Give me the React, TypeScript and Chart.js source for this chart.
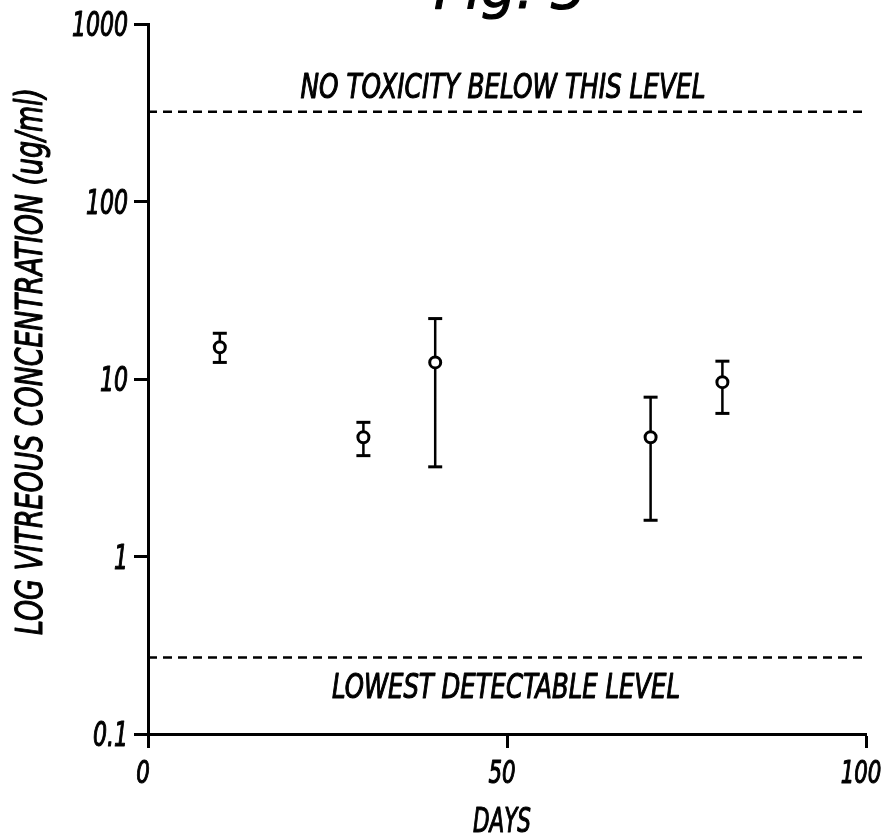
import React, { useEffect, useRef } from "react";
import { Chart, registerables } from "chart.js";

Chart.register(...registerables);

// ---- data ----
const days = [10, 30, 40, 70, 80];
const meanConc = [15.1, 4.7, 12.4, 4.7, 9.6];
const upperConc = [18.1, 5.7, 21.9, 7.9, 12.6];
const lowerConc = [12.4, 3.7, 3.2, 1.6, 6.4];
const toxicityLevel = 320;
const detectionLevel = 0.27;
const xRange = [0, 100];
const xTickValues = [0, 50, 100];
const xTickLabels = ["0", "50", "100"];
const yTickValues = [0.1, 1, 10, 100, 1000];
const yTickLabels = ["0.1", "1", "10", "100", "1000"];
const figureTitle = "Fig. 3";
const xAxisTitle = "DAYS";
const yAxisTitle = "LOG VITREOUS CONCENTRATION (ug/ml)";
const toxicityLabel = "NO TOXICITY BELOW THIS LEVEL";
const detectionLabel = "LOWEST DETECTABLE LEVEL";

const NARROW = "'DejaVu Sans Condensed', 'Liberation Sans', sans-serif";

const textPlugin = {
  id: "figText",
  afterDraw(chart: any) {
    const ctx = chart.ctx as CanvasRenderingContext2D;
    const paint = (text: string) => {
      ctx.fillStyle = "#000";
      ctx.strokeStyle = "#000";
      ctx.lineWidth = 1.1;
      ctx.lineJoin = "round";
      ctx.fillText(text, 0, 0);
      ctx.strokeText(text, 0, 0);
    };
    const drawFit = (
      text: string,
      cx: number,
      baseline: number,
      width: number,
      size: number,
      rot = 0,
      family = NARROW
    ) => {
      ctx.save();
      ctx.font = `italic ${size}px ${family}`;
      const w = ctx.measureText(text).width || 1;
      ctx.translate(cx, baseline);
      ctx.rotate(rot);
      ctx.scale(width / w, 1);
      ctx.textAlign = "center";
      ctx.textBaseline = "alphabetic";
      paint(text);
      ctx.restore();
    };
    const drawScaled = (
      text: string,
      x: number,
      baseline: number,
      sx: number,
      size: number,
      align: CanvasTextAlign
    ) => {
      ctx.save();
      ctx.font = `italic ${size}px ${NARROW}`;
      ctx.translate(x, baseline);
      ctx.scale(sx, 1);
      ctx.textAlign = align;
      ctx.textBaseline = "alphabetic";
      paint(text);
      ctx.restore();
    };

    const xs = chart.scales.x;
    const ys = chart.scales.y;
    // tick labels, positioned through the chart's own scales
    xTickValues.forEach((v, i) => {
      const px = xs.getPixelForValue(v);
      drawScaled(xTickLabels[i], px - 5, xs.top + 49, 0.74, 32, "center");
    });
    yTickValues.forEach((v, i) => {
      const py = ys.getPixelForValue(v);
      drawScaled(yTickLabels[i], ys.right - 20, py + 12, 0.74, 33, "right");
    });

    drawFit(figureTitle, 510, 8, 152, 56, 0, "'DejaVu Sans', sans-serif");
    drawFit(toxicityLabel, 503, 98, 405, 34);
    drawFit(detectionLabel, 506, 698, 348, 34);
    drawFit(xAxisTitle, 502, 832, 58, 33);
    drawFit(yAxisTitle, 42, 361.5, 547, 37, -Math.PI / 2);
  },
};

export default function App() {
  const ref = useRef<HTMLCanvasElement | null>(null);

  useEffect(() => {
    if (!ref.current) return;
    const points = days.map((d, i) => ({ x: d, y: meanConc[i] }));
    const bars: any[] = [];
    days.forEach((d, i) => {
      bars.push({ x: d, y: lowerConc[i] });
      bars.push({ x: d, y: upperConc[i] });
      bars.push({ x: d, y: null });
    });
    const tox = xRange.map((x) => ({ x, y: toxicityLevel }));
    const det = xRange.map((x) => ({ x, y: detectionLevel }));

    const gridOpts = {
      display: true,
      drawOnChartArea: false,
      drawTicks: true,
      tickLength: 14,
      tickWidth: 3,
      tickColor: "#000",
    };

    const chart = new Chart(ref.current, {
      type: "line",
      data: {
        datasets: [
          {
            data: points,
            showLine: false,
            pointStyle: "circle",
            pointRadius: 5.5,
            pointBorderWidth: 3,
            pointBorderColor: "#000",
            pointBackgroundColor: "#fff",
            order: 0,
          },
          {
            data: bars,
            borderColor: "#000",
            borderWidth: 2.5,
            spanGaps: false,
            pointStyle: "line",
            pointRadius: 7,
            pointBorderWidth: 3,
            pointBorderColor: "#000",
            order: 1,
          },
          {
            data: tox,
            borderColor: "#000",
            borderWidth: 2.5,
            borderDash: [9, 6],
            pointRadius: 0,
            order: 2,
          },
          {
            data: det,
            borderColor: "#000",
            borderWidth: 2.5,
            borderDash: [9, 6],
            pointRadius: 0,
            order: 2,
          },
        ] as any,
      },
      options: {
        animation: false,
        responsive: true,
        maintainAspectRatio: false,
        layout: { padding: { left: 0, top: 24, right: 24, bottom: 0 } },
        plugins: {
          legend: { display: false },
          tooltip: { enabled: false },
          title: { display: false },
        },
        scales: {
          x: {
            type: "linear",
            min: xRange[0],
            max: xRange[1],
            afterFit: (s: any) => {
              s.height = 105;
              s.paddingLeft = 0;
              s.paddingRight = 0;
            },
            afterBuildTicks: (s: any) => {
              s.ticks = xTickValues.map((v) => ({ value: v }));
            },
            ticks: { display: false, autoSkip: false, maxRotation: 0 },
            grid: gridOpts,
            border: { display: true, color: "#000", width: 3 },
          },
          y: {
            type: "logarithmic",
            min: yTickValues[0],
            max: yTickValues[yTickValues.length - 1],
            afterFit: (s: any) => {
              s.width = 148;
              s.paddingTop = 0;
              s.paddingBottom = 0;
            },
            afterBuildTicks: (s: any) => {
              s.ticks = yTickValues.map((v) => ({ value: v, major: true }));
            },
            ticks: { display: false, autoSkip: false },
            grid: gridOpts,
            border: { display: true, color: "#000", width: 3 },
          },
        },
      },
      plugins: [textPlugin],
    });
    return () => chart.destroy();
  }, []);

  return (
    <div
      style={{
        position: "absolute",
        left: 0,
        top: 0,
        width: 890,
        height: 839,
        background: "#fff",
      }}
    >
      <canvas ref={ref} />
    </div>
  );
}
